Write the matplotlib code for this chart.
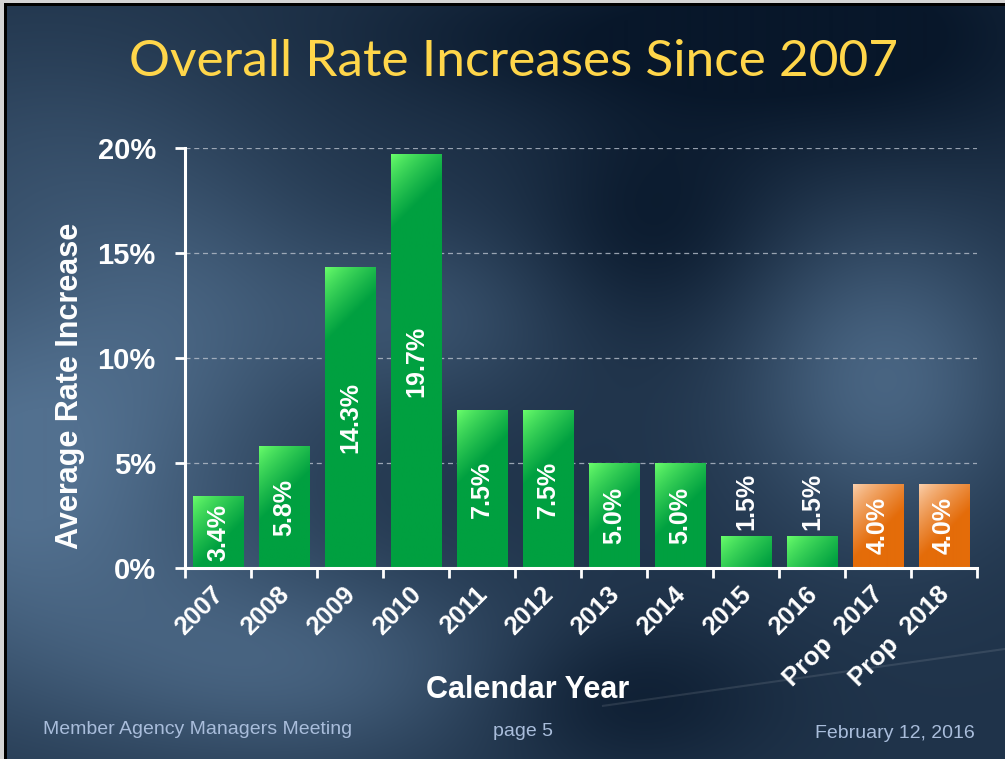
import numpy as np
import matplotlib
matplotlib.use("Agg")
import matplotlib.pyplot as plt
import matplotlib.transforms as mtransforms
from matplotlib.patches import Rectangle
from matplotlib.colors import to_rgb

# chart data
years = ["2007", "2008", "2009", "2010", "2011", "2012", "2013", "2014",
         "2015", "2016", "Prop  2017", "Prop  2018"]
rates = [3.4, 5.8, 14.3, 19.7, 7.5, 7.5, 5.0, 5.0, 1.5, 1.5, 4.0, 4.0]
labels = ["3.4%", "5.8%", "14.3%", "19.7%", "7.5%", "7.5%", "5.0%", "5.0%",
          "1.5%", "1.5%", "4.0%", "4.0%"]
proposed = [False] * 10 + [True, True]
yticks = [0, 5, 10, 15, 20]

W, H = 1005, 759
fig = plt.figure(figsize=(W / 100, H / 100), dpi=100)

# slide background
bg = fig.add_axes([0, 0, 1, 1], zorder=-10)
yy, xx = np.mgrid[0:1:H * 1j, 0:1:W * 1j]


def blob(cx, cy, sx, sy):
    return np.exp(-((xx - cx) ** 2 / sx + (yy - cy) ** 2 / sy))


level = (0.32
         + 0.7 * blob(0.02, 0.62, 0.05, 0.08)
         + 0.2 * blob(0.05, 0.2, 0.04, 0.03)
         + 0.55 * blob(0.88, 0.5, 0.02, 0.04)
         + 0.45 * blob(0.3, 0.88, 0.05, 0.02)
         + 0.3 * blob(0.42, 0.42, 0.02, 0.015)
         + 0.25 * blob(0.2, 0.4, 0.02, 0.03)
         - 0.35 * blob(0.85, 0.05, 0.06, 0.03)
         - 0.25 * blob(0.65, 0.3, 0.015, 0.02)
         - 0.25 * blob(0.62, 0.92, 0.02, 0.01)
         - 0.2 * blob(0.55, 0.05, 0.05, 0.01))
level = np.clip(level, 0, 1)[..., None]
dark = np.array(to_rgb("#08172a"))
light = np.array(to_rgb("#52708f"))
img = dark + (light - dark) * level
bg.imshow(img, aspect="auto", extent=(0, 1, 0, 1), interpolation="bilinear")
# faint streak
bg.plot([0.6, 1.0], [0.07, 0.145], color="white", alpha=0.1, lw=1.5)
bg.set_xlim(0, 1)
bg.set_ylim(0, 1)
bg.axis("off")
# frame of the screenshot
bg.add_patch(Rectangle((0, 0), 4 / W, 1, color="#d4d4d4", lw=0))
bg.add_patch(Rectangle((4 / W, 0), 3 / W, 1, color="black", lw=0))
bg.add_patch(Rectangle((0, 1 - 3 / H), 1, 3 / H, color="#d4d4d4", lw=0))
bg.add_patch(Rectangle((4 / W, 1 - 6 / H), 1, 3 / H, color="black", lw=0))

ax = fig.add_axes([185 / W, 1 - 568 / H, (977 - 185) / W, (568 - 148) / H])
ax.patch.set_alpha(0)
x = np.arange(len(years))
bw = 0.76
bars = ax.bar(x, rates, width=bw, color="none", zorder=3)
ax.set_xlim(-0.5, len(years) - 0.5)
ax.set_ylim(0, 20)

# diagonal gradient fill for each bar (light at the top-left corner)
px_x = ax.bbox.width / len(years)
px_y = ax.bbox.height / 20
for b, p in zip(bars, proposed):
    x0, w, h = b.get_x(), b.get_width(), b.get_height()
    nx, ny = 60, max(int(h * px_y), 2)
    gx, gy = np.meshgrid(np.linspace(0, w * px_x, nx), np.linspace(0, h * px_y, ny))
    t = np.clip((gx + gy) / 75.0, 0, 1) ** 0.8
    t = t[..., None]
    if p:
        c0, c1 = np.array(to_rgb("#fbd2b0")), np.array(to_rgb("#e46c0a"))
    else:
        c0, c1 = np.array(to_rgb("#6cff6c")), np.array(to_rgb("#00a040"))
    grad = c0 + (c1 - c0) * t
    ax.imshow(grad, extent=(x0, x0 + w, 0, h), aspect="auto", zorder=3,
              interpolation="bilinear")
ax.set_xlim(-0.5, len(years) - 0.5)
ax.set_ylim(0, 20)

# value labels
for xi, v, lab in zip(x, rates, labels):
    if v < 3:
        ax.text(xi, v + 0.3, lab, rotation=90, ha="center", va="bottom",
                color="white", fontsize=18, fontweight="bold",
                family="Liberation Sans", zorder=5)
    else:
        ax.text(xi, v / 2, lab, rotation=90, ha="center", va="center",
                color="white", fontsize=18, fontweight="bold",
                family="Liberation Sans", zorder=5)

ax.yaxis.grid(True, linestyle=(0, (4, 3)), color="#b8c0cc", lw=0.9, alpha=0.8, zorder=1)
ax.set_axisbelow(True)
for s in ["top", "right"]:
    ax.spines[s].set_visible(False)
for s in ["left", "bottom"]:
    ax.spines[s].set_color("white")
    ax.spines[s].set_linewidth(2.2)
    ax.spines[s].set_zorder(6)

ax.set_yticks(yticks)
ax.set_yticklabels([f"{v}%" for v in yticks])
ax.tick_params(axis="y", colors="white", length=7, width=2, pad=14,
               labelsize=21)
for t in ax.get_yticklabels():
    t.set_fontweight("bold")
    t.set_family("Liberation Sans")

ax.set_xticks(np.arange(-0.5, len(years), 1.0))
ax.set_xticklabels([])
ax.tick_params(axis="x", which="major", colors="white", length=7, width=2)
ax.set_xticks(x, minor=True)
ax.set_xticklabels(years, minor=True, rotation=45, ha="right",
                   rotation_mode="anchor", fontsize=18.5, fontweight="bold",
                   family="Liberation Sans", color="white")
ax.tick_params(axis="x", which="minor", length=0, pad=10)
shift = mtransforms.ScaledTranslation(-7 / 100, 0, fig.dpi_scale_trans)
for t in ax.get_xticklabels(minor=True):
    t.set_transform(t.get_transform() + shift)

fig.text(70 / W, 1 - 386 / H, "Average Rate Increase", rotation=90,
         ha="center", va="center", color="white", fontsize=22,
         fontweight="bold", family="Liberation Sans")
fig.text(528 / W, 1 - 690 / H, "Calendar Year", ha="center", va="center",
         color="white", fontsize=22, fontweight="bold", family="Liberation Sans")

fig.text(513 / W, 1 - 62 / H, "Overall Rate Increases Since 2007",
         ha="center", va="center", color="#ffd64a", fontsize=37, family="Lato")

foot = "#a9bddb"
fig.text(43 / W, 1 - 729 / H, "Member Agency Managers Meeting", ha="left",
         va="center", color=foot, fontsize=14, family="Liberation Sans")
fig.text(523 / W, 1 - 731 / H, "page 5", ha="center", va="center",
         color=foot, fontsize=14, family="Liberation Sans")
fig.text(975 / W, 1 - 733 / H, "February 12, 2016", ha="right", va="center",
         color=foot, fontsize=14, family="Liberation Sans")

fig.savefig("out.png", dpi=100)
